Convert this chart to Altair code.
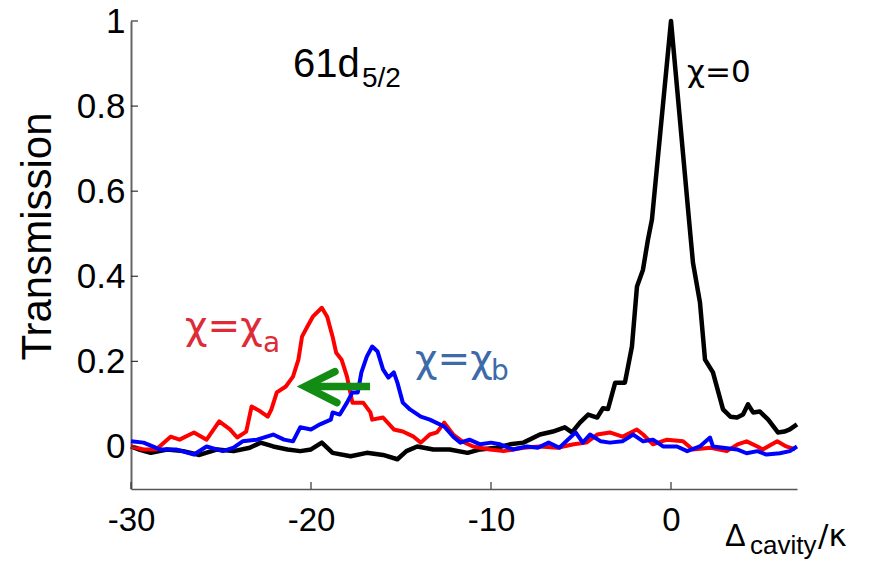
import altair as alt
import pandas as pd

# ---- data ----
black_x = [-30, -29.5, -28.9, -28.0, -27.1, -26.2, -25.2, -24.3, -23.4, -22.8, -22.1, -21.3, -20.6, -20.0,
           -19.4, -18.8, -17.8, -16.9, -16.0, -15.2, -14.7, -14.1, -13.2, -12.3, -11.3, -10.6, -9.7,
           -8.94, -8.2, -7.28, -6.56, -5.9, -5.5, -5.06, -4.6, -4.1, -3.78, -3.5, -3.1, -2.56, -2.17,
           -1.89, -1.56, -1.28, -1.06, 0.0, 1.0, 1.22, 1.61, 1.89, 2.33, 2.89, 3.3, 3.67, 4.0, 4.28,
           4.56, 4.94, 5.4, 5.94, 6.3, 6.6, 7.0]
black_y = [0.0, -0.008, -0.015, -0.007, -0.011, -0.02, -0.007, -0.011, -0.003, 0.009, 0.0, -0.007, -0.011, -0.007,
           0.009, -0.015, -0.023, -0.015, -0.02, -0.03, -0.011, 0.0, -0.007, -0.007, -0.015, -0.007, -0.003,
           0.005, 0.009, 0.028, 0.035, 0.045, 0.033, 0.056, 0.075, 0.068, 0.09, 0.088, 0.15, 0.15, 0.235,
           0.376, 0.415, 0.486, 0.533, 1.0, 0.533, 0.432, 0.338, 0.204, 0.174, 0.087, 0.07, 0.068, 0.075, 0.099,
           0.08, 0.082, 0.063, 0.033, 0.035, 0.04, 0.052]

red_x = [-30, -29.3, -28.6, -27.8, -27.3, -26.5, -25.8, -25.1, -24.5, -24.1, -23.6, -23.3, -22.8, -22.4,
         -22.2, -21.9, -21.4, -21.0, -20.7, -20.5, -20.2, -19.9, -19.4, -19.1, -18.8, -18.6, -18.3, -18.0,
         -17.7, -17.1, -16.7, -16.6, -16.0, -15.4, -14.9, -14.3, -13.9, -13.4, -13.0, -12.6, -12.1, -11.6,
         -11.0, -10.06, -9.3, -8.2, -7.3, -6.3, -5.4, -4.7, -4.1, -3.4, -2.7, -1.9, -1.55, -1.0, -0.22,
         0.67, 1.2, 2.2, 3.1, 3.7, 4.2, 4.8, 5.1, 5.9, 6.4, 6.9]
red_y = [0.0, -0.007, -0.007, 0.023, 0.016, 0.033, 0.016, 0.059, 0.04, 0.021, 0.035, 0.094, 0.082, 0.07,
         0.087, 0.127, 0.141, 0.164, 0.204, 0.258, 0.282, 0.305, 0.326, 0.305, 0.258, 0.22, 0.204, 0.164,
         0.103, 0.103, 0.08, 0.063, 0.068, 0.04, 0.035, 0.023, 0.009, 0.028, 0.033, 0.056, 0.028, 0.012,
         0.0, -0.007, -0.011, -0.003, 0.0, -0.003, 0.005, 0.009, 0.028, 0.033, 0.023, 0.04, 0.028, 0.005, 0.016,
         0.012, -0.007, -0.003, -0.011, 0.005, 0.012, 0.0, -0.007, 0.012, 0.0, -0.007]

blue_x = [-30, -29.3, -28.4, -27.5, -26.5, -25.8, -24.9, -24.3, -23.8, -23.0, -22.1, -21.5, -21.0, -20.6,
          -20.0, -19.5, -18.9, -18.8, -18.4, -18.0, -17.7, -17.4, -17.2, -16.9, -16.6, -16.3, -16.0, -15.7,
          -15.4, -15.2, -14.9, -14.5, -13.9, -13.4, -12.6, -12.1, -11.7, -11.2, -10.6, -10.0, -9.5, -8.8,
          -8.0, -7.4, -6.8, -6.2, -5.3, -4.9, -4.5, -3.9, -3.4, -2.7, -2.1, -1.55, -1.0, -0.44, 0.33, 0.9,
          1.6, 2.17, 2.33, 2.9, 3.67, 4.2, 4.8, 5.3, 6.05, 6.6, 7.0]
blue_y = [0.012, 0.009, -0.007, -0.007, -0.019, 0.0, -0.011, -0.003, 0.012, 0.016, 0.028, 0.016, 0.012, 0.045,
          0.04, 0.052, 0.063, 0.08, 0.075, 0.103, 0.127, 0.127, 0.174, 0.211, 0.235, 0.223, 0.181, 0.162,
          0.174, 0.15, 0.103, 0.087, 0.07, 0.063, 0.047, 0.023, 0.009, 0.016, 0.005, 0.009, 0.005, -0.007,
          0.0, -0.003, 0.009, -0.003, 0.033, 0.009, 0.028, 0.012, 0.009, 0.012, 0.028, 0.012, 0.016, 0.0, 0.0, -0.011,
          0.0, 0.021, 0.0, -0.003, -0.007, -0.016, -0.011, -0.019, -0.016, -0.011, 0.0]

x_ticks = [-30, -20, -10, 0]
y_ticks = [0, 0.2, 0.4, 0.6, 0.8, 1]

# green arrow (data units)
shaft_x = [-16.72, -19.89]
shaft_y = [0.141, 0.141]
head_x = [-18.67, -20.33, -18.56]
head_y = [0.176, 0.141, 0.103]

FONT = "Liberation Sans"
GFONT = "DejaVu Sans"

xs = alt.Scale(domain=[-30, 7], nice=False, zero=False)
ys = alt.Scale(domain=[-0.1, 1], nice=False, zero=False)

x_axis = alt.Axis(values=x_ticks, labelExpr="'' + datum.value", labelFontSize=33, labelFont=FONT,
                  labelColor="black", labelPadding=15, ticks=False, grid=False, domainColor="#555555",
                  domainWidth=1.5, title="", labelFlush=False)
y_axis = alt.Axis(values=y_ticks, labelExpr="'' + datum.value", labelFontSize=35, labelFont=FONT,
                  labelColor="black", labelPadding=6, ticks=False, grid=False, domainColor="#666666",
                  domainWidth=2, title="Transmission", titleFontSize=42, titleFont=FONT,
                  titleFontWeight="normal", titleColor="black", titlePadding=17, titleY=215)

X = lambda f: alt.X(f, scale=xs, axis=x_axis)
Y = lambda f: alt.Y(f, scale=ys, axis=y_axis)


def line(x, y, color, width):
    df = pd.DataFrame({"x": x, "y": y})
    return alt.Chart(df).mark_line(color=color, strokeWidth=width, strokeJoin="round").encode(
        x=X("x:Q"), y=Y("y:Q"))


def txt(x, y, s, size, color, font):
    df = pd.DataFrame({"x": [x], "y": [y], "t": [s]})
    return alt.Chart(df).mark_text(align="left", baseline="alphabetic", fontSize=size, color=color,
                                   font=font).encode(x=X("x:Q"), y=Y("y:Q"), text="t:N")


black = line(black_x, black_y, "black", 4.5)
red = line(red_x, red_y, "#ff0000", 4)
blue = line(blue_x, blue_y, "#0000ff", 4)

# tick marks drawn inward
ytick_df = pd.DataFrame({"y": y_ticks, "x": [-30] * len(y_ticks), "x2": [-29.61] * len(y_ticks)})
yticks = alt.Chart(ytick_df).mark_rule(color="#333333", strokeWidth=1.2).encode(
    x=X("x:Q"), x2="x2:Q", y=Y("y:Q"))
xtick_df = pd.DataFrame({"x": x_ticks, "y": [-0.1] * len(x_ticks), "y2": [-0.0836] * len(x_ticks)})
xticks = alt.Chart(xtick_df).mark_rule(color="#333333", strokeWidth=1.2).encode(
    x=X("x:Q"), y=Y("y:Q"), y2="y2:Q")

shaft = alt.Chart(pd.DataFrame({"x": shaft_x, "y": shaft_y})).mark_line(
    color="#128c12", strokeWidth=7.5, strokeCap="butt").encode(x=X("x:Q"), y=Y("y:Q"))
head = alt.Chart(pd.DataFrame({"x": head_x, "y": head_y, "i": [0, 1, 2]})).mark_line(
    color="#128c12", strokeWidth=7.5, strokeCap="round", strokeJoin="miter").encode(
    x=X("x:Q"), y=Y("y:Q"), order="i:O")

texts = [
    txt(-21.0, 0.8685, "61d", 40, "black", FONT),
    txt(-17.17, 0.845, "5/2", 28, "black", FONT),
    txt(0.89, 0.857, "χ=0", 31, "black", GFONT),
    txt(-27.0, 0.2535, "χ=χ", 39, "#dd2c37", GFONT),
    txt(-22.67, 0.223, "a", 28, "#dd2c37", GFONT),
    txt(-14.22, 0.176, "χ=χ", 39, "#3d6aa8", GFONT),
    txt(-10.0, 0.157, "b", 28, "#3d6aa8", GFONT),
    txt(3.0, -0.2347, "Δ", 31, "black", FONT),
    txt(4.39, -0.2535, "cavity", 26, "black", FONT),
    txt(8.17, -0.2347, "/κ", 31, "black", GFONT),
]

chart = alt.layer(black, red, blue, yticks, xticks, shaft, head, *texts).properties(
    width=666, height=468,
    autosize=alt.AutoSizeParams(type="none"),
    padding={"left": 123, "top": 13, "right": 69, "bottom": 71},
).configure_view(strokeWidth=0)

chart.save("out.html", embed_options={"renderer": "svg", "actions": False})
